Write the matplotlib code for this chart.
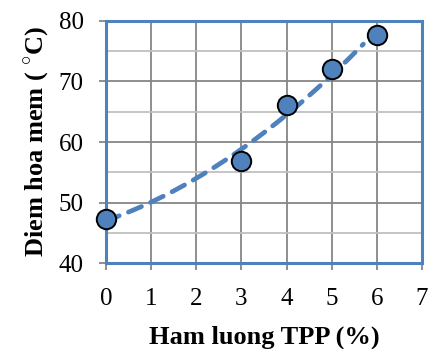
import numpy as np
import matplotlib.pyplot as plt
from matplotlib.ticker import MultipleLocator

plt.rcParams['font.family'] = ['Liberation Serif', 'DejaVu Serif']
plt.rcParams['mathtext.fontset'] = 'custom'
plt.rcParams['mathtext.rm'] = 'Liberation Serif'

# data
tpp = [0, 3, 4, 5, 6]
soft_point = [47.3, 56.8, 66.2, 72.0, 77.6]

blue = '#4F81BD'

fig = plt.figure(figsize=(4.36, 3.49), dpi=100)
ax = fig.add_axes([0.243, 0.246, 0.725, 0.694])

# polynomial trendline (order 2), as in the spreadsheet chart
coef = np.polyfit(tpp, soft_point, 2)
xs = np.linspace(min(tpp), max(tpp) - 0.3, 200)
ax.plot(xs, np.polyval(coef, xs), color=blue, lw=3.4, ls=(0, (3.0, 2.1)),
        dash_capstyle='round', zorder=3)

ax.plot(tpp, soft_point, 'o', ms=14, mfc=blue, mec='black', mew=1.4,
        zorder=4, clip_on=False)

ax.set_xlim(0, 7)
ax.set_ylim(40, 80)
ax.xaxis.set_major_locator(MultipleLocator(1))
ax.yaxis.set_major_locator(MultipleLocator(10))
ax.yaxis.set_minor_locator(MultipleLocator(5))

ax.grid(which='major', color='#868686', lw=1.3)
ax.grid(which='minor', axis='y', color='#C0C0C0', lw=1.3)
ax.set_axisbelow(True)

for s in ax.spines.values():
    s.set_color(blue)
    s.set_linewidth(2.2)

ax.tick_params(axis='both', which='major', labelsize=18, color='#868686',
               length=5, width=1.3, direction='out')
ax.tick_params(axis='y', which='major', pad=11)
ax.tick_params(axis='x', which='major', pad=13)
ax.tick_params(axis='y', which='minor', length=0)

ax.set_xlabel('Ham luong TPP (%)', fontsize=19, fontweight='bold', labelpad=11)
ax.set_ylabel('Diem hoa mem ( $^{\\circ}$C)', fontsize=19,
              fontweight='bold', labelpad=5)

fig.savefig('out.png', dpi=100)
